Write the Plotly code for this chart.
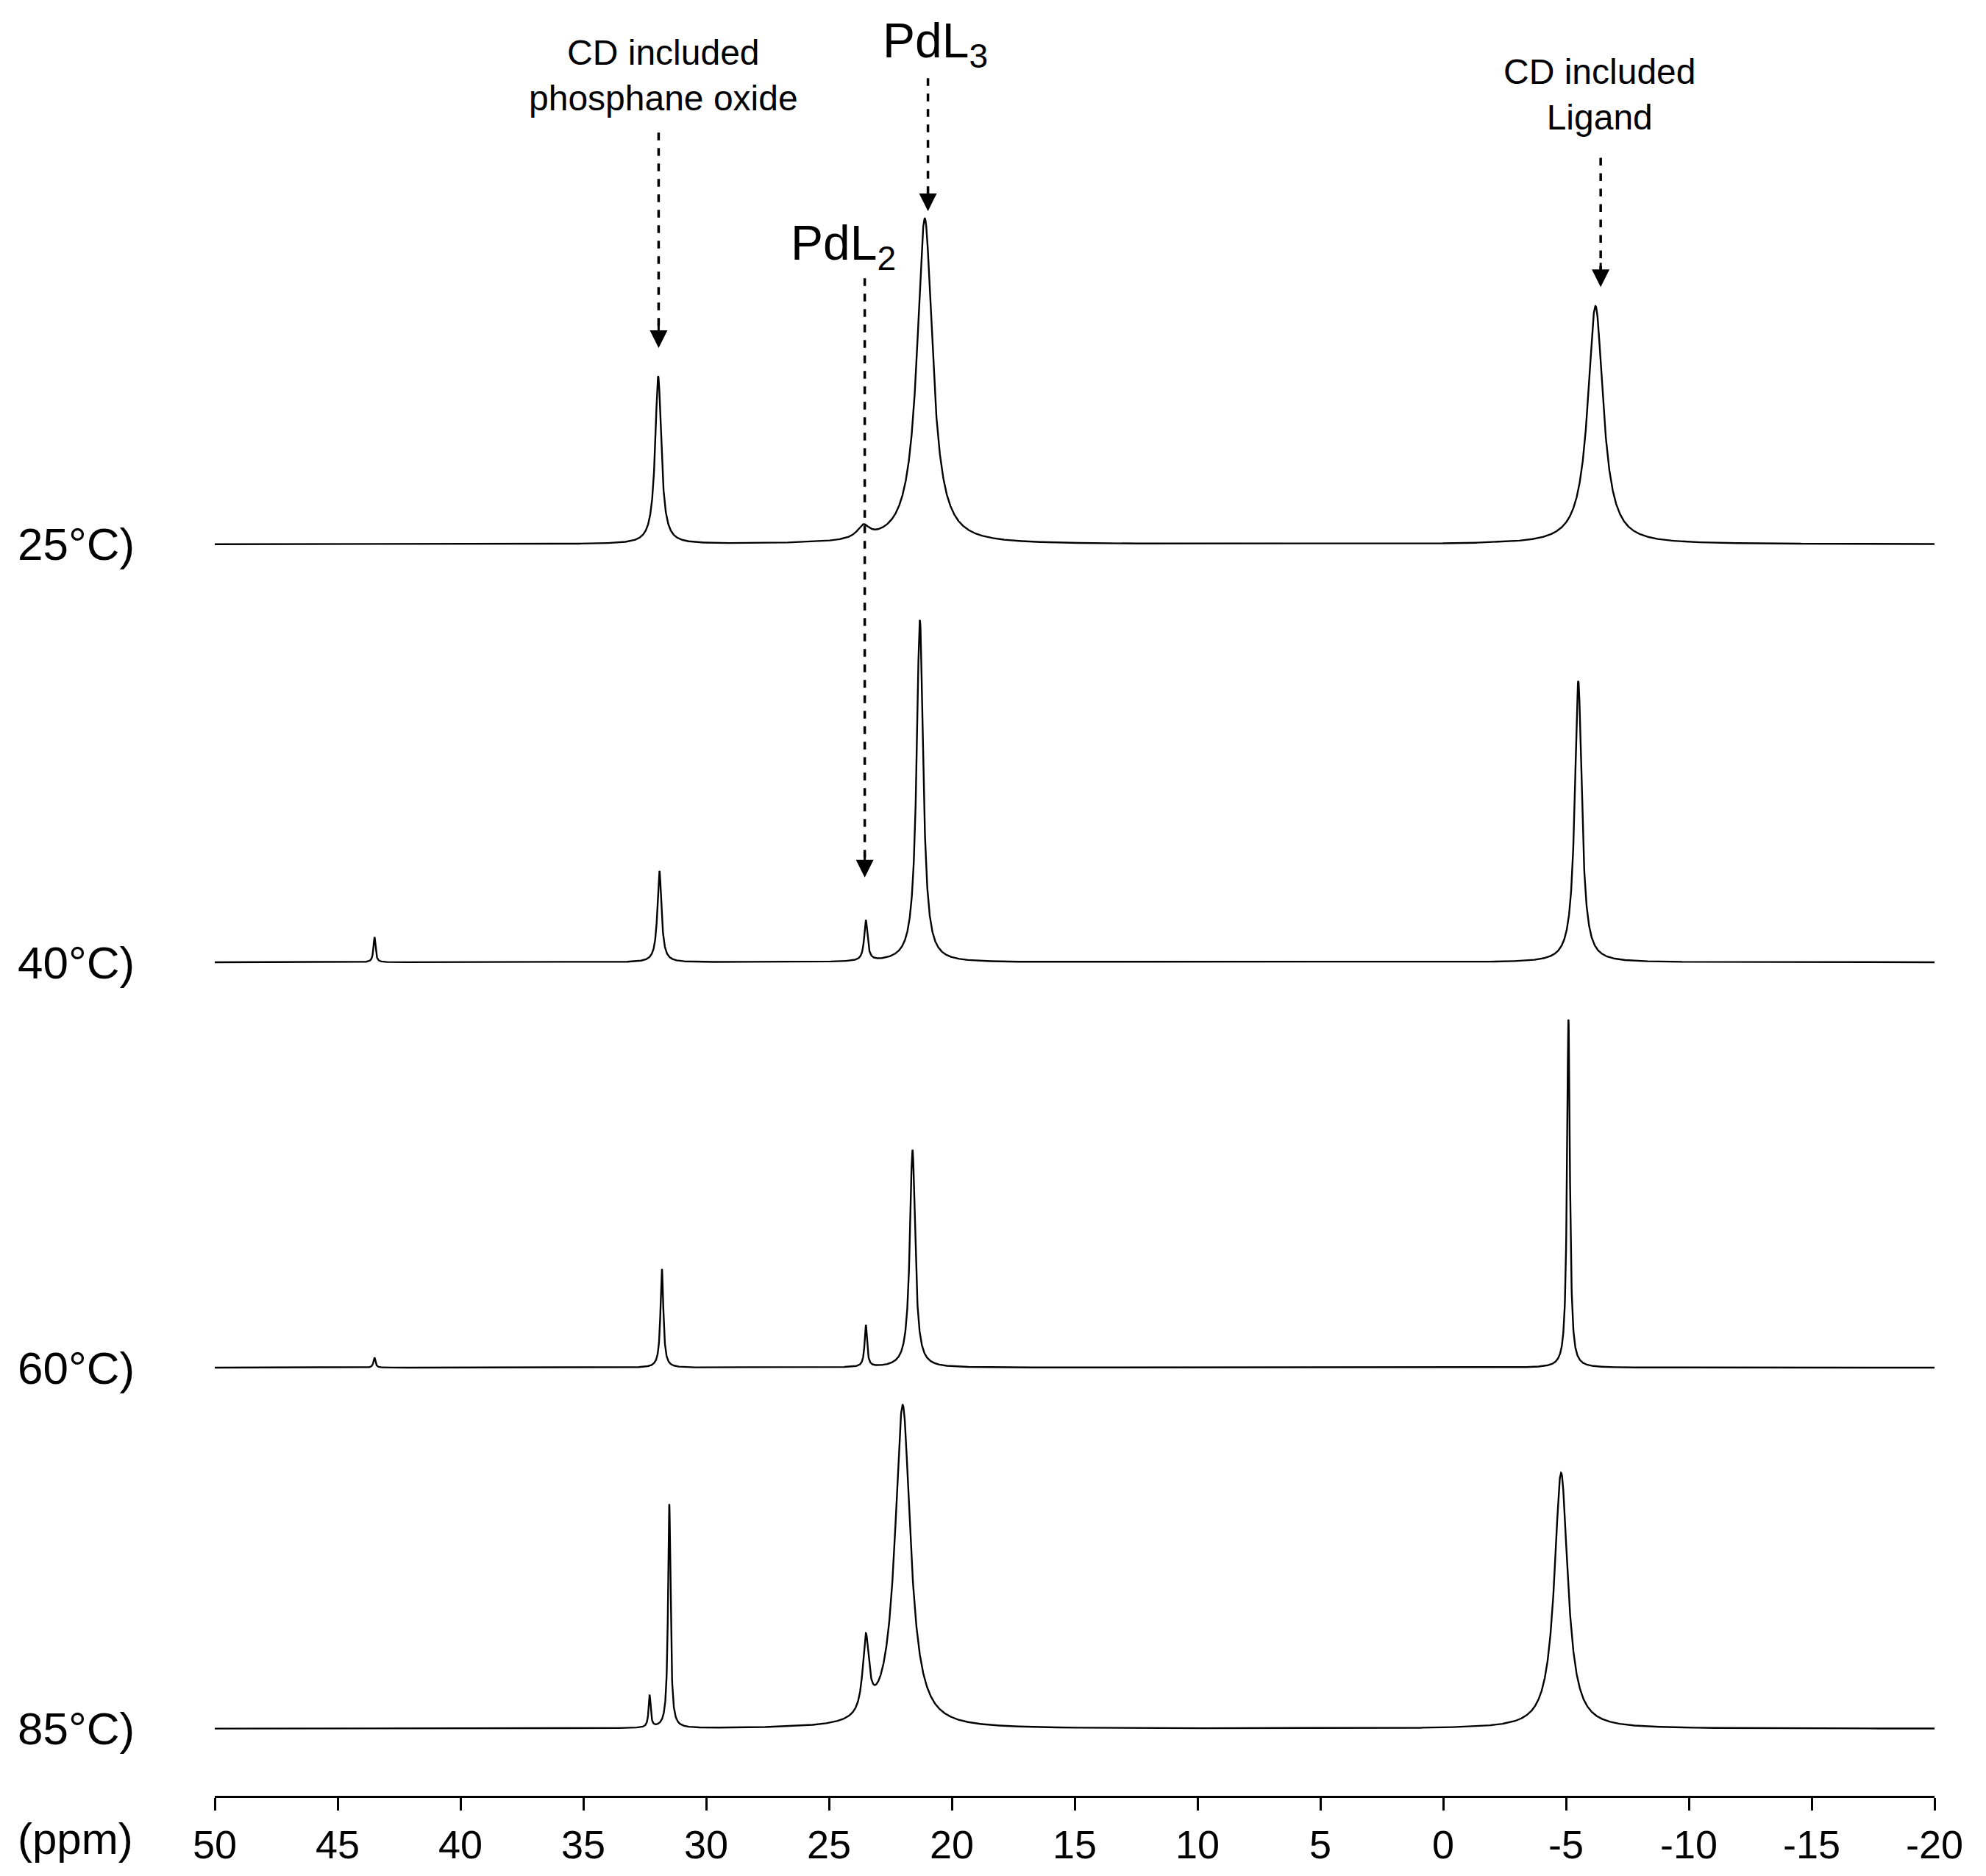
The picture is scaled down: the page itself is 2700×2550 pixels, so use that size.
import numpy as np
import plotly.graph_objects as go

# Spectra: baseline offsets (chart units) and peaks (ppm, height, half-width ppm)
temps = ["25°C)", "40°C)", "60°C)", "85°C)"]
offsets = [988, 658, 338, 53]
peak_pos = [
    [31.95, 21.1, -6.2, 23.6],
    [31.9, 23.5, 21.3, -5.5, 43.5],
    [31.8, 23.5, 21.6, -5.1, 43.5],
    [31.5, 32.3, 23.5, 22.0, -4.8],
]
peak_h = [
    [132, 257, 188, 10],
    [72, 32, 270, 222, 20],
    [78, 33, 172, 275, 8],
    [177, 25, 60, 255, 202],
]
peak_w = [
    [0.15, 0.38, 0.38, 0.3],
    [0.1, 0.08, 0.16, 0.17, 0.05],
    [0.07, 0.06, 0.13, 0.07, 0.05],
    [0.06, 0.05, 0.15, 0.38, 0.33],
]
ticks = [50, 45, 40, 35, 30, 25, 20, 15, 10, 5, 0, -5, -10, -15, -20]

x = np.linspace(50, -20, 9000)
fig = go.Figure()
for off, ps, hs, ws in zip(offsets, peak_pos, peak_h, peak_w):
    y = np.full_like(x, float(off))
    for p, h, w in zip(ps, hs, ws):
        y += h * w**2 / ((x - p) ** 2 + w**2)
    fig.add_trace(go.Scatter(x=x, y=y, mode="lines", line=dict(color="black", width=2.4),
                             showlegend=False, hoverinfo="skip"))

def ppm(px):
    return 50 - (px - 165) / 1360 * 70

def yy(py):
    return 1413 - py

PLOT_L, PLOT_W = 284, 2342
def px_paper(px):
    return (px * 1.722 - PLOT_L) / PLOT_W

ann = []
shapes = []
for xp, y0, y1 in [(516, 100, 270), (729, 57, 162), (679, 215, 688), (1261, 120, 222)]:
    shapes.append(dict(type="line", xref="x", yref="y", x0=ppm(xp), x1=ppm(xp), y0=yy(y0), y1=yy(y1 - 10),
                       line=dict(color="black", width=3.5, dash="dash")))
    ann.append(dict(x=ppm(xp), y=yy(y1), ax=ppm(xp), ay=yy(y1 - 20), xref="x", yref="y", axref="x", ayref="y",
                    showarrow=True, arrowhead=2, arrowsize=1.6, arrowwidth=3, arrowcolor="black", text=""))

font = "Liberation Sans, Arial"
ann += [
    dict(x=ppm(520), y=yy(55), text="CD included<br>phosphane oxide", showarrow=False,
         font=dict(size=48, family=font, color="black"), xref="x", yref="y"),
    dict(x=ppm(1260), y=yy(70), text="CD included<br>Ligand", showarrow=False,
         font=dict(size=48, family=font, color="black"), xref="x", yref="y"),
    dict(x=ppm(735), y=yy(30), text="PdL<sub>3</sub>", showarrow=False,
         font=dict(size=66, family=font, color="black"), xref="x", yref="y"),
    dict(x=ppm(662), y=yy(190), text="PdL<sub>2</sub>", showarrow=False,
         font=dict(size=66, family=font, color="black"), xref="x", yref="y"),
    dict(x=px_paper(8), y=-34 * 1.722 / 2433, xref="paper", yref="paper", text="(ppm)",
         showarrow=False, xanchor="left", yanchor="middle",
         font=dict(size=60, family=font, color="black")),
]
for t, off in zip(temps, offsets):
    ann.append(dict(x=px_paper(8), xref="paper", y=off, yref="y", text=t, showarrow=False, xanchor="left",
                    yanchor="middle", font=dict(size=62, family=font, color="black")))

fig.update_layout(
    width=2700, height=2550, plot_bgcolor="white", paper_bgcolor="white",
    margin=dict(l=284, r=78, t=0, b=117),
    annotations=ann, shapes=shapes,
    xaxis=dict(range=[50, -20], tickvals=ticks, ticktext=[str(t) for t in ticks], showline=True,
               linecolor="black", linewidth=2.5, ticks="outside", ticklen=17, tickwidth=2.5,
               tickcolor="black", showgrid=False, zeroline=False,
               tickfont=dict(size=54, family=font, color="black")),
    yaxis=dict(range=[0, 1413], visible=False, showgrid=False, zeroline=False),
)
fig.write_html("out.html")
